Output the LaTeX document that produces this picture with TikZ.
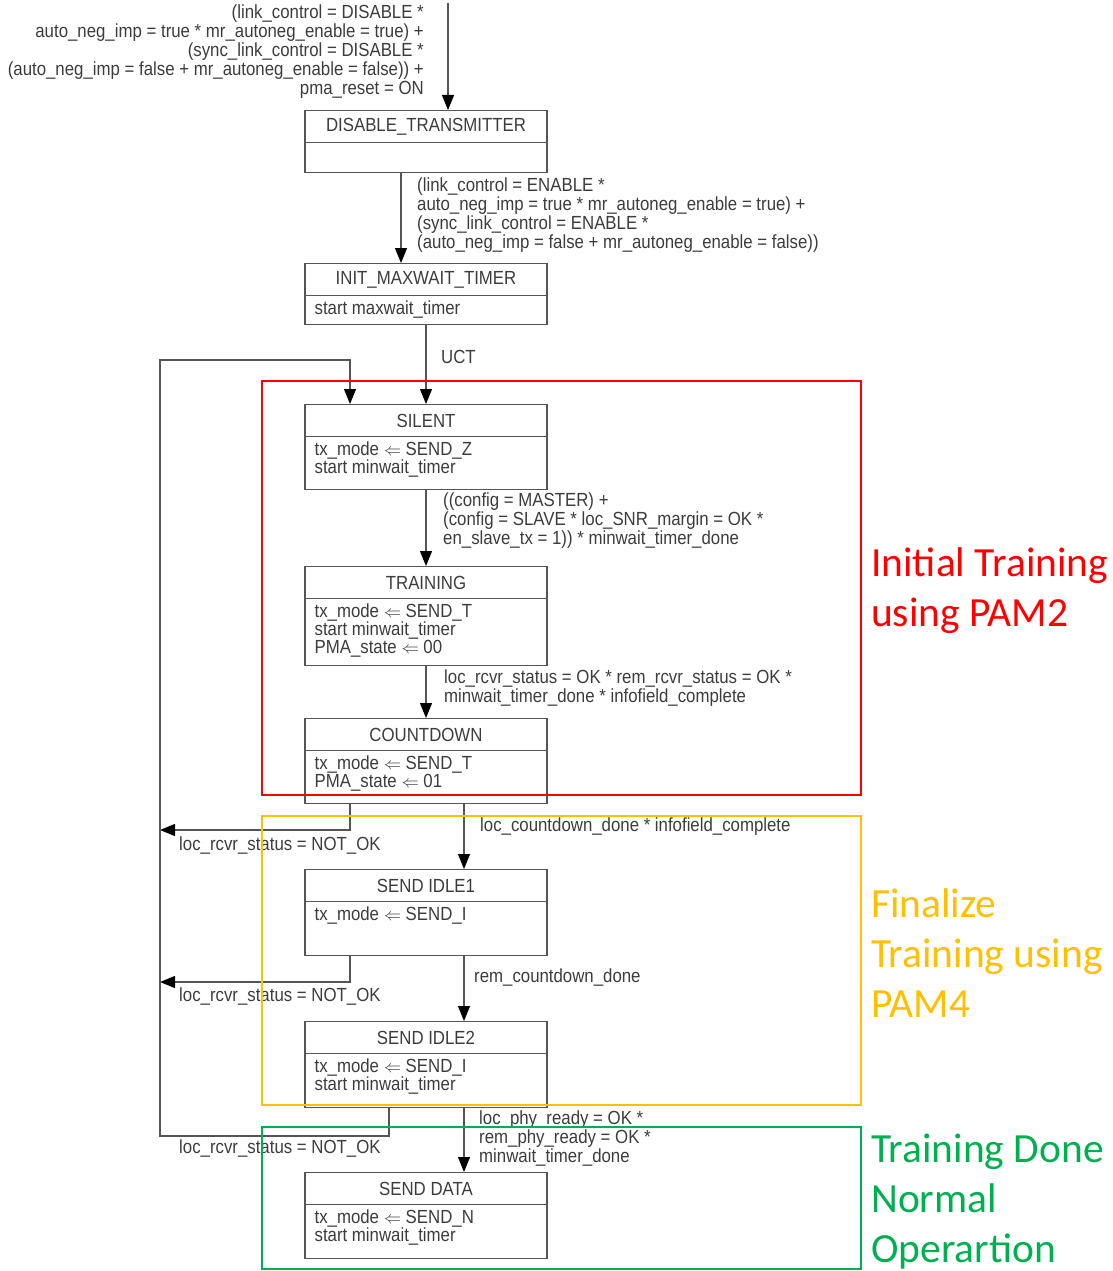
\documentclass[tikz,border=0pt]{standalone}
\usepackage{fontspec}
\setmainfont{Liberation Sans}[FakeStretch=0.885]
\newfontfamily\notefont{Carlito}
\usetikzlibrary{arrows.meta,calc,positioning}
\definecolor{linegray}{HTML}{555555}
\definecolor{txtgray}{HTML}{3C3C3C}
\definecolor{pamred}{HTML}{FF0000}
\definecolor{pamorange}{HTML}{FFC000}
\definecolor{pamgreen}{HTML}{00B050}
\newcommand{\diafont}{\fontsize{19}{19}\selectfont}
\newcommand{\bodyfont}{\fontsize{19}{18}\selectfont}
\newcommand{\asgn}{$\Leftarrow$}
\tikzset{
  state/.style={draw=linegray, line width=1.2pt, minimum width=242pt, inner sep=0pt, anchor=north},
  head/.style={state, minimum height=32pt, text=txtgray, font=\diafont},
  body/.style={anchor=base west, align=left, inner sep=0pt, text=txtgray, font=\bodyfont},
  cond/.style={anchor=base west, align=left, inner sep=0pt, text=txtgray, font=\diafont},
  trans/.style={draw=linegray, line width=1.2pt, -{Triangle[width=12pt,length=15pt,color=black]}},
  region/.style={line width=1.3pt},
  note/.style={anchor=base west, align=left, inner sep=0pt, font=\notefont\fontsize{41.5}{50}\selectfont},
}
\begin{document}
\begin{tikzpicture}[x=1pt,y=-1pt]
\useasboundingbox (0,0) rectangle (1112,1271);
%Zustaende (base = letzte Zeile)
\node[state, minimum height=62pt] (disable) at (426,110) {};
\node[head] (disable-t) at (disable.north) {DISABLE\_TRANSMITTER};
\node[state, minimum height=61pt] (init) at (426,263) {};
\node[head] (init-t) at (init.north) {INIT\_MAXWAIT\_TIMER};
\node[body] (init-b) at ($(init-t.south west)+(10,18)$) {start maxwait\_timer};
\node[state, minimum height=85pt] (silent) at (426,404) {};
\node[head] (silent-t) at (silent.north) {SILENT};
\node[body] (silent-b) at ($(silent-t.south west)+(10,36)$) {tx\_mode \asgn\ SEND\_Z\\start minwait\_timer};
\node[state, minimum height=99pt] (training) at (426,566) {};
\node[head] (training-t) at (training.north) {TRAINING};
\node[body] (training-b) at ($(training-t.south west)+(10,54)$) {tx\_mode \asgn\ SEND\_T\\start minwait\_timer\\PMA\_state \asgn\ 00};
\node[state, minimum height=85pt] (countdown) at (426,718) {};
\node[head] (countdown-t) at (countdown.north) {COUNTDOWN};
\node[body] (countdown-b) at ($(countdown-t.south west)+(10,36)$) {tx\_mode \asgn\ SEND\_T\\PMA\_state \asgn\ 01};
\node[state, minimum height=86pt] (idle1) at (426,869) {};
\node[head] (idle1-t) at (idle1.north) {SEND IDLE1};
\node[body] (idle1-b) at ($(idle1-t.south west)+(10,18)$) {tx\_mode \asgn\ SEND\_I};
\node[state, minimum height=86pt] (idle2) at (426,1021) {};
\node[head] (idle2-t) at (idle2.north) {SEND IDLE2};
\node[body] (idle2-b) at ($(idle2-t.south west)+(10,36)$) {tx\_mode \asgn\ SEND\_I\\start minwait\_timer};
\node[state, minimum height=86pt] (data) at (426,1172) {};
\node[head] (data-t) at (data.north) {SEND DATA};
\node[body] (data-b) at ($(data-t.south west)+(10,36)$) {tx\_mode \asgn\ SEND\_N\\start minwait\_timer};
%Uebergaenge
\coordinate (entry) at (448,3);
\coordinate (rail) at (160,360);
\draw[trans] (entry) -- (disable-t.north -| entry);
\draw[trans] (disable.south -| 401,0) -- (init-t.north -| 401,0);
\draw[trans] (init.south) -- (silent-t.north);
\draw[trans] (silent.south) -- (training-t.north);
\draw[trans] (training.south) -- (countdown-t.north);
\draw[trans] (countdown.south -| 464,0) -- (idle1-t.north -| 464,0);
\draw[trans] (idle1.south -| 464,0) -- (idle2-t.north -| 464,0);
\draw[trans] (idle2.south -| 464,0) -- (data-t.north -| 464,0);
\draw[trans] (countdown.south -| 350,0) |- (rail |- 0,830);
\draw[trans] (idle1.south -| 350,0) |- (rail |- 0,982);
\draw[trans] (idle2.south -| 389,0) -- (389,1136) -| (rail) -| (silent-t.north -| 350,0);
%Bedingungen
\node[cond, anchor=base east, align=right] (c-reset) at (424,95) {(link\_control = DISABLE *\\auto\_neg\_imp = true * mr\_autoneg\_enable = true) +\\(sync\_link\_control = DISABLE *\\(auto\_neg\_imp = false + mr\_autoneg\_enable = false)) +\\pma\_reset = ON};
\node[cond] (c-enable) at (417,248) {(link\_control = ENABLE *\\auto\_neg\_imp = true * mr\_autoneg\_enable = true) +\\(sync\_link\_control = ENABLE *\\(auto\_neg\_imp = false + mr\_autoneg\_enable = false))};
\node[cond] (c-uct) at (441,363) {UCT};
\node[cond] (c-config) at (443,544) {((config = MASTER) +\\(config = SLAVE * loc\_SNR\_margin = OK *\\en\_slave\_tx = 1)) * minwait\_timer\_done};
\node[cond] (c-rcvr) at (444,702) {loc\_rcvr\_status = OK * rem\_rcvr\_status = OK *\\minwait\_timer\_done * infofield\_complete};
\node[cond] (c-count) at (480,831) {loc\_countdown\_done * infofield\_complete};
\node[cond] (c-rem) at (474,982) {rem\_countdown\_done};
\node[cond] (c-phy) at (479,1162) {loc\_phy\_ready = OK *\\rem\_phy\_ready = OK *\\minwait\_timer\_done};
\node[cond] (c-fail1) at (179,850) {loc\_rcvr\_status = NOT\_OK};
\node[cond] (c-fail2) at (179,1001) {loc\_rcvr\_status = NOT\_OK};
\node[cond] (c-fail3) at (179,1153) {loc\_rcvr\_status = NOT\_OK};
%Phasen
\draw[region, pamred] (262,381) rectangle (861,795);
\draw[region, pamorange] (262,816) rectangle (861,1105);
\draw[region, pamgreen] (262,1127) rectangle (861,1269);
\node[note, text=pamred] (n-pam2) at (871,626) {Initial Training\\using PAM2};
\node[note, text=pamorange] (n-pam4) at (871,1017) {Finalize\\Training using\\PAM4};
\node[note, text=pamgreen] (n-done) at (871,1262) {Training Done\\Normal\\Operartion};
\end{tikzpicture}
\end{document}
